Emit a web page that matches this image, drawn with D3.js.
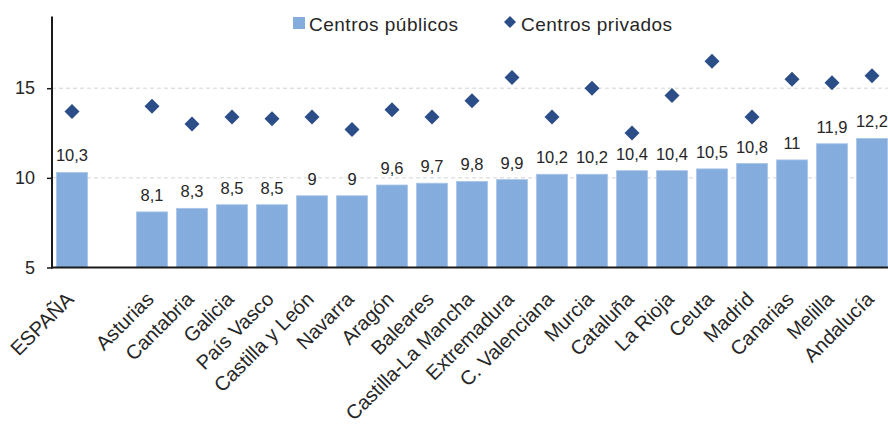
<!DOCTYPE html>
<html>
<head>
<meta charset="utf-8">
<script src="https://cdn.jsdelivr.net/npm/d3@7"></script>
<style>
  html, body { margin: 0; padding: 0; background: #fff; }
  svg { display: block; font-family: "Liberation Sans", Arial, sans-serif; }
</style>
</head>
<body>
<svg id="chart" width="888" height="427"></svg>
<script>
const categories = ["ESPAÑA", "", "Asturias", "Cantabria", "Galicia", "País Vasco", "Castilla y León", "Navarra", "Aragón", "Baleares", "Castilla-La Mancha", "Extremadura", "C. Valenciana", "Murcia", "Cataluña", "La Rioja", "Ceuta", "Madrid", "Canarias", "Melilla", "Andalucía"];
const publicos = [10.3, null, 8.1, 8.3, 8.5, 8.5, 9, 9, 9.6, 9.7, 9.8, 9.9, 10.2, 10.2, 10.4, 10.4, 10.5, 10.8, 11, 11.9, 12.2];
const privados = [13.7, null, 14.0, 13.0, 13.4, 13.3, 13.4, 12.7, 13.8, 13.4, 14.3, 15.6, 13.4, 15.0, 12.5, 14.6, 16.5, 13.4, 15.5, 15.3, 15.7];
const yTicks = [5, 10, 15];
const seriesNames = ["Centros públicos", "Centros privados"];

const svg = d3.select("#chart");
const barColor = "#84ACDD";
const dotColor = "#2C4E88";
const textColor = "#262626";

const x = d3.scaleBand().domain(categories.map((c, i) => i)).range([52, 892]).paddingInner(0.225).paddingOuter(0.1125);
const y = d3.scaleLinear().domain([5, 19]).range([267.5, 16.5]);

// gridlines
svg.append("g").selectAll("line").data(yTicks.filter(t => t > 5)).join("line")
  .attr("x1", 52).attr("x2", 888)
  .attr("y1", d => y(d)).attr("y2", d => y(d))
  .attr("stroke", "#d4d4d4").attr("stroke-width", 1).attr("stroke-dasharray", "4,3");

// bars
const data = categories.map((c, i) => ({ i, c, pub: publicos[i], priv: privados[i] }));
svg.append("g").selectAll("rect").data(data.filter(d => d.pub != null)).join("rect")
  .attr("x", d => x(d.i))
  .attr("width", x.bandwidth())
  .attr("y", d => y(d.pub))
  .attr("height", d => y(5) - y(d.pub))
  .attr("fill", barColor)
  .attr("stroke", "#a8c5ea").attr("stroke-width", 0.8);

// data labels
svg.append("g").selectAll("text").data(data.filter(d => d.pub != null)).join("text")
  .attr("x", d => x(d.i) + x.bandwidth() / 2)
  .attr("y", d => y(d.pub) - 11)
  .attr("text-anchor", "middle")
  .attr("font-size", 16.5)
  .attr("fill", textColor)
  .text(d => String(d.pub).replace(".", ","));

// diamonds
svg.append("g").selectAll("path").data(data.filter(d => d.priv != null)).join("path")
  .attr("d", "M0,-7.5L7.5,0L0,7.5L-7.5,0Z")
  .attr("transform", d => `translate(${x(d.i) + x.bandwidth() / 2},${y(d.priv)})`)
  .attr("fill", dotColor);

// y axis
const yAxis = svg.append("g").attr("transform", "translate(52,0)")
  .call(d3.axisLeft(y).tickValues(yTicks).tickSize(5).tickPadding(12).tickFormat(d3.format("d")));
yAxis.select(".domain").remove();
yAxis.selectAll(".tick line").attr("stroke", "#1a1a1a").attr("stroke-width", 1.5);
yAxis.selectAll(".tick text").attr("font-size", 18).attr("fill", textColor).attr("font-family", "Liberation Sans, Arial, sans-serif");
svg.append("line").attr("x1", 52).attr("x2", 52).attr("y1", y(19)).attr("y2", y(5) + 1)
  .attr("stroke", "#1a1a1a").attr("stroke-width", 2);

// x axis
const xAxis = svg.append("g").attr("transform", `translate(0,${y(5)})`)
  .call(d3.axisBottom(x).tickSize(0).tickFormat(i => categories[i]));
xAxis.select(".domain").remove();
xAxis.selectAll(".tick text")
  .attr("font-size", 20).attr("fill", textColor).attr("font-family", "Liberation Sans, Arial, sans-serif")
  .attr("text-anchor", "end").attr("x", 0).attr("y", 0).attr("dy", 0)
  .attr("transform", "translate(3,33) rotate(-45)");
svg.append("line").attr("x1", 51).attr("x2", 888).attr("y1", y(5)).attr("y2", y(5))
  .attr("stroke", "#1a1a1a").attr("stroke-width", 2);

// legend
const leg = svg.append("g");
leg.append("rect").attr("x", 293).attr("y", 17).attr("width", 12).attr("height", 12).attr("fill", barColor);
leg.append("text").attr("x", 309).attr("y", 30.5).attr("font-size", 19).attr("letter-spacing", 0.5).attr("fill", textColor).text(seriesNames[0]);
leg.append("path").attr("d", "M0,-6L6,0L0,6L-6,0Z").attr("transform", "translate(510,22)").attr("fill", dotColor);
leg.append("text").attr("x", 521).attr("y", 30.5).attr("font-size", 19).attr("letter-spacing", 0.5).attr("fill", textColor).text(seriesNames[1]);
</script>
</body>
</html>
